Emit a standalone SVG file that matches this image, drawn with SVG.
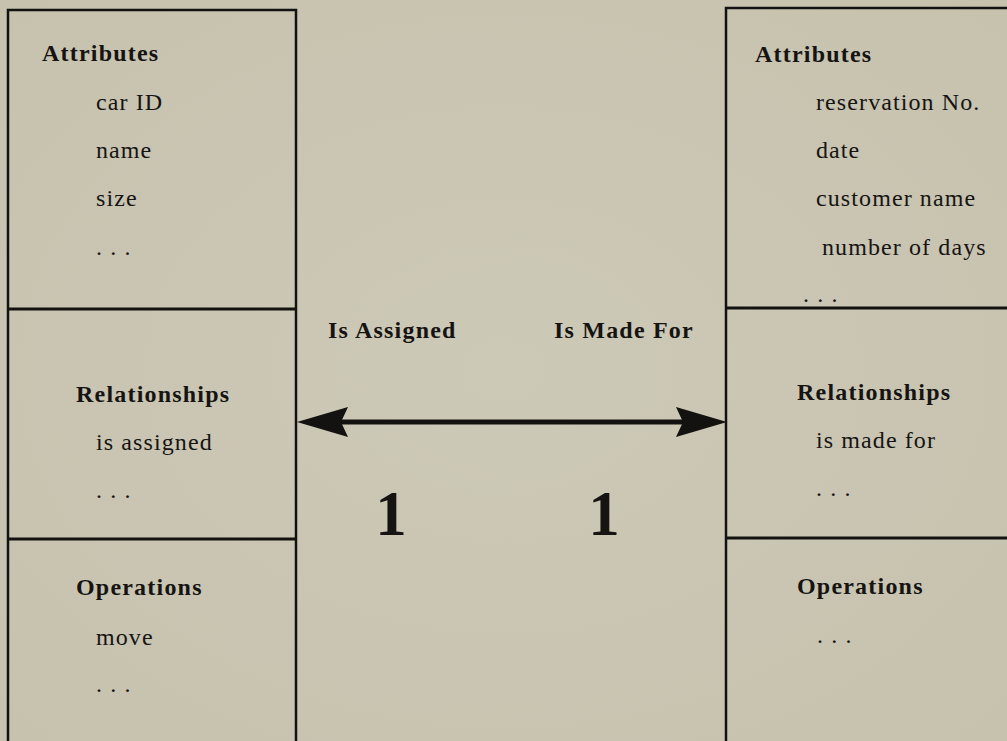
<svg xmlns="http://www.w3.org/2000/svg" width="1007" height="741" viewBox="0 0 1007 741">
  <style>
    .frame { fill: none; stroke: #141210; stroke-width: 2.5; }
    .divider { stroke: #141210; stroke-width: 3; }
    text { font-family: "Liberation Serif", "Times New Roman", serif; fill: #161412; }
    .head { font-size: 24px; font-weight: bold; letter-spacing: 1.2px; }
    .item { font-size: 24px; letter-spacing: 1.1px; }
    .mult { font-size: 63px; font-weight: bold; text-anchor: middle; }
    .assoc { stroke: #141210; stroke-width: 5; fill: none; }
  </style>
  <defs>
    <radialGradient id="paper" cx="50%" cy="50%" r="70%">
      <stop offset="0" stop-color="#cdc9b7"/>
      <stop offset="1" stop-color="#c6c2ae"/>
    </radialGradient>
    <marker id="head" markerUnits="userSpaceOnUse" viewBox="0 0 51 30" markerWidth="51" markerHeight="30" refX="31" refY="15" orient="auto-start-reverse">
      <path d="M0,0 L51,15 L0,30 L7,15 Z" fill="#141210"/>
    </marker>
  </defs>

  <rect x="0" y="0" width="1007" height="741" fill="url(#paper)"/>

  <!-- Car class -->
  <g id="car">
    <path class="frame" d="M8,745 V10 H296 V745"/>
    <line class="divider" x1="8" y1="309" x2="296" y2="309"/>
    <line class="divider" x1="8" y1="539" x2="296" y2="539"/>
    <text class="head" x="42" y="61">Attributes</text>
    <text class="item" x="96" y="110">car ID</text>
    <text class="item" x="96" y="158">name</text>
    <text class="item" x="96" y="206">size</text>
    <text class="item" x="96" y="255">. . .</text>
    <text class="head" x="76" y="402">Relationships</text>
    <text class="item" x="96" y="450">is assigned</text>
    <text class="item" x="96" y="498">. . .</text>
    <text class="head" x="76" y="595">Operations</text>
    <text class="item" x="96" y="645">move</text>
    <text class="item" x="96" y="692">. . .</text>
  </g>

  <!-- Reservation class -->
  <g id="reservation">
    <path class="frame" d="M726,745 V8 H1010"/>
    <line class="divider" x1="726" y1="308" x2="1010" y2="308"/>
    <line class="divider" x1="726" y1="538" x2="1010" y2="538"/>
    <text class="head" x="755" y="62">Attributes</text>
    <text class="item" x="816" y="110">reservation No.</text>
    <text class="item" x="816" y="158">date</text>
    <text class="item" x="816" y="206">customer name</text>
    <text class="item" x="822" y="255">number of days</text>
    <text class="item" x="803" y="302">. . .</text>
    <text class="head" x="797" y="400">Relationships</text>
    <text class="item" x="816" y="448">is made for</text>
    <text class="item" x="816" y="496">. . .</text>
    <text class="head" x="797" y="594">Operations</text>
    <text class="item" x="817" y="643">. . .</text>
  </g>

  <!-- Association between the two classes -->
  <g id="connectors">
    <line class="assoc" x1="317" y1="422" x2="707" y2="422" marker-start="url(#head)" marker-end="url(#head)"/>
    <text class="head" x="328" y="338">Is Assigned</text>
    <text class="head" x="554" y="338">Is Made For</text>
    <text class="mult" x="391" y="535">1</text>
    <text class="mult" x="604" y="535">1</text>
  </g>
</svg>
